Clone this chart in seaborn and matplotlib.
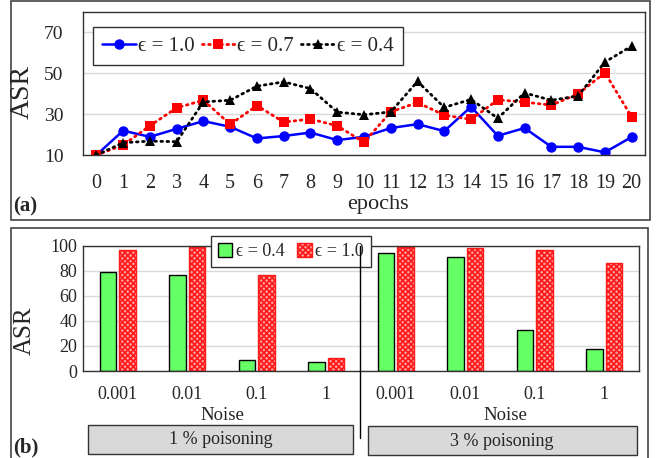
import matplotlib
matplotlib.use('Agg')
import matplotlib.pyplot as plt
from matplotlib.patches import Rectangle, Patch
from matplotlib.lines import Line2D
import seaborn as sns
import pandas as pd

sns.set_style('white')
plt.rcParams['font.family'] = ['Liberation Serif', 'DejaVu Serif']
plt.rcParams['hatch.linewidth'] = 1.2

# (a) ASR per epoch
epochs = list(range(21))
asr_eps10 = [10, 21.9, 18.9, 22.8, 26.6, 23.8, 18.1, 19.3, 21.0, 17.3, 18.9,
             23.2, 25.1, 21.7, 33.6, 19.4, 23.2, 14.0, 14.0, 11.3, 18.8]
asr_eps07 = [10, 14.9, 24.3, 33.1, 36.8, 25.0, 34.2, 26.1, 27.6, 24.3, 16.2,
             31.1, 35.7, 29.5, 27.4, 37.0, 35.9, 34.4, 39.9, 50.3, 28.7]
asr_eps04 = [10, 16.0, 16.8, 16.5, 36.0, 36.8, 43.7, 45.8, 42.5, 31.0, 29.7,
             31.1, 46.0, 33.3, 37.2, 28.0, 40.4, 36.8, 38.9, 55.5, 63.3]

# (b) ASR per noise level
noise_labels = ['0.001', '0.01', '0.1', '1']
poison_groups = ['1 % poisoning', '3 % poisoning']
bar_eps04 = [79, 76.6, 9, 6.9, 93.9, 91.2, 32.7, 17.3]
bar_eps10 = [96.6, 99, 76.4, 10.6, 99, 98.2, 96.6, 86]

W, H = 656, 458
fig = plt.figure(figsize=(W / 100, H / 100), dpi=100)


def fx(x):
    return x / W


def fy(y):
    return 1 - y / H


def box(x0, y0, x1, y1, **kw):
    return Rectangle((fx(x0), fy(y1)), fx(x1) - fx(x0), fy(y0) - fy(y1),
                     transform=fig.transFigure, **kw)


# outer panel frames
fig.add_artist(box(10.7, 1, 650, 220, fill=False, edgecolor='#444444', lw=1.2))
fig.add_artist(box(10.7, 228, 648, 462, fill=False, edgecolor='#444444', lw=1.2))

# ---------- (a) ----------
ax1 = fig.add_axes([fx(83), fy(155), fx(645) - fx(83), fy(12) - fy(155)])
lab10, lab07, lab04 = 'ϵ = 1.0', 'ϵ = 0.7', 'ϵ = 0.4'
sns.lineplot(x=epochs, y=asr_eps10, ax=ax1, color='#0000ff', lw=1.8, marker='o',
             markersize=7.5, markeredgewidth=0, label=lab10)
sns.lineplot(x=epochs, y=asr_eps07, ax=ax1, color='#ff0000', lw=2.0, linestyle=(0, (0.6, 1.6)),
             dash_capstyle='round', marker='s', markersize=7, markeredgewidth=0, label=lab07)
sns.lineplot(x=epochs, y=asr_eps04, ax=ax1, color='black', lw=2.0, linestyle=(0, (0.6, 1.6)),
             dash_capstyle='round', marker='^', markersize=7.5, markeredgewidth=0, label=lab04)
ax1.set_xlim(-0.5, 20.5)
ax1.set_ylim(10, 80)
ax1.set_yticks([10, 30, 50, 70])
ax1.set_xticks(epochs)
ax1.yaxis.grid(True, color='#d9d9d9', lw=1.0)
ax1.set_axisbelow(True)
ax1.tick_params(axis='x', length=0, pad=14, labelsize=14.5)
ax1.tick_params(axis='y', length=0, pad=14, labelsize=14)
for s in ax1.spines.values():
    s.set_color('#333333')
    s.set_linewidth(1.0)
ax1.set_ylabel('')
ax1.set_xlabel('')
ax1.legend(ncol=3, loc='upper left', bbox_to_anchor=(fx(93), fy(27)),
           bbox_transform=fig.transFigure, borderaxespad=0, frameon=True,
           fancybox=False, edgecolor='#333333', framealpha=1, fontsize=15,
           handlelength=1.6, handletextpad=0.1, columnspacing=0.35,
           borderpad=0.45)
fig.text(fx(22.7), fy(92), 'ASR', fontsize=20, rotation=90, ha='center', va='center')
fig.text(fx(378), fy(205), 'epochs', fontsize=16, ha='center', va='center')
fig.text(fx(13), fy(206), '(a)', fontsize=15, fontweight='bold', ha='left', va='center')

# ---------- (b) ----------
ax2 = fig.add_axes([fx(83), fy(371), fx(639) - fx(83), fy(245.7) - fy(371)])
keys = [g + '|' + n for g in poison_groups for n in noise_labels]
df = pd.DataFrame({
    'key': keys * 2,
    'ASR': bar_eps04 + bar_eps10,
    'eps': ['ϵ = 0.4'] * len(keys) + ['ϵ = 1.0'] * len(keys),
})
sns.barplot(data=df, x='key', y='ASR', hue='eps', order=keys,
            palette={'ϵ = 0.4': '#66ff66', 'ϵ = 1.0': '#ffa0a0'}, saturation=1,
            width=0.56, gap=0.16, ax=ax2, legend=False, zorder=2)
for bar in ax2.containers[0]:
    bar.set_edgecolor('black')
    bar.set_linewidth(1.0)
for bar in ax2.containers[1]:
    bar.set_edgecolor('#ff1a1a')
    bar.set_hatch('xxxxxx')
    bar.set_linewidth(1.0)
ax2.set_xlim(-0.5, 7.5)
ax2.set_ylim(0, 100)
ax2.set_yticks(range(0, 101, 20))
ax2.set_xticks(range(8))
ax2.set_xticklabels(noise_labels * 2)
ax2.yaxis.grid(True, color='#d9d9d9', lw=1.0)
ax2.set_axisbelow(True)
ax2.tick_params(axis='x', length=0, pad=11, labelsize=13)
ax2.tick_params(axis='y', length=0, pad=4, labelsize=13)
for s in ax2.spines.values():
    s.set_color('#333333')
    s.set_linewidth(1.0)
ax2.set_xlabel('')
ax2.set_ylabel('')
fig.text(fx(25), fy(331), 'ASR', fontsize=18, rotation=90, ha='center', va='center')

# divider between poisoning groups
fig.add_artist(Line2D([fx(360), fx(360)], [fy(246), fy(438)],
                      transform=fig.transFigure, color='black', lw=1.0))

leg_handles = [Patch(facecolor='#66ff66', edgecolor='black', lw=1.0, label='ϵ = 0.4'),
               Patch(facecolor='#ffa0a0', edgecolor='#ff1a1a', hatch='xxxxxx', lw=1.0, label='ϵ = 1.0')]
leg2 = ax2.legend(handles=leg_handles, ncol=2, loc='upper left',
                  bbox_to_anchor=(fx(210.7), fy(235.7)), bbox_transform=fig.transFigure,
                  borderaxespad=0, frameon=True, fancybox=False, edgecolor='#333333',
                  framealpha=1, fontsize=13, handlelength=0.8, handleheight=0.8,
                  handletextpad=0.2, columnspacing=0.7, borderpad=0.4)
leg2.set_zorder(10)

for name, cx in zip(['Noise', 'Noise'], [222, 505]):
    fig.text(fx(cx), fy(415), name, fontsize=13.5, ha='center', va='center')

fig.add_artist(box(88, 425, 353, 454, facecolor='#d9d9d9', edgecolor='#333333', lw=1.0))
fig.add_artist(box(367.7, 426, 636.7, 455, facecolor='#d9d9d9', edgecolor='#333333', lw=1.0))
fig.text(fx(221), fy(440), poison_groups[0], fontsize=13, ha='center', va='center')
fig.text(fx(502), fy(441), poison_groups[1], fontsize=13, ha='center', va='center')
fig.text(fx(13), fy(447), '(b)', fontsize=15, fontweight='bold', ha='left', va='center')

fig.savefig('out.png', dpi=100)
